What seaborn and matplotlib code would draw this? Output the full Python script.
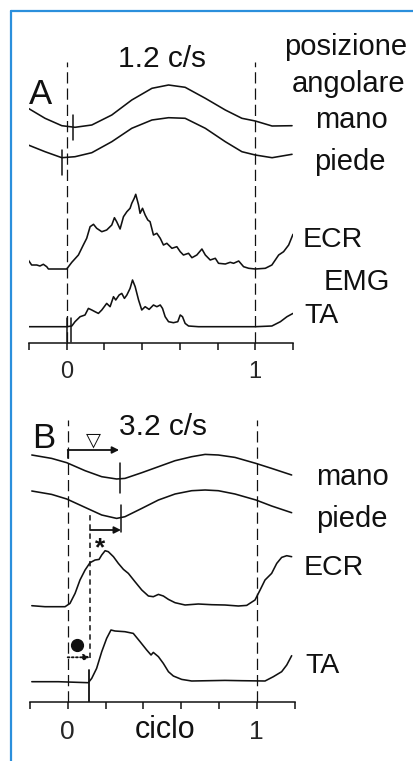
import matplotlib
matplotlib.use("Agg")
import matplotlib.pyplot as plt
from matplotlib.lines import Line2D
import pandas as pd
import seaborn as sns

# ---------------- data (phase of cycle, amplitude in arbitrary units) ----------------
# Panel A: 1.2 c/s
a_pos_phase = [-0.204, -0.115, -0.026, 0.044, 0.133, 0.239, 0.345, 0.452, 0.540, 0.628,
               0.735, 0.841, 0.929, 1.0, 1.089, 1.195]
a_mano = [-2.1, -12.1, -19.5, -21.1, -18.8, -8.8, 6.2, 17.9, 21.2, 18.9, 7.9, -3.8, -12.1,
          -14.8, -19.8, -19.5]
a_piede = [-7.3, -14.0, -20.0, -19.0, -15.0, -4.0, 9.4, 17.7, 20.0, 19.4, 9.4, -4.0, -14.0,
           -17.3, -20.0, -16.6]
a_ecr_phase = [-0.204, -0.186, -0.159, -0.142, -0.124, -0.106, -0.097, 0.0, 0.027, 0.062,
               0.088, 0.106, 0.124, 0.142, 0.159, 0.186, 0.212, 0.239, 0.253, 0.265,
               0.283, 0.301, 0.319, 0.336, 0.345, 0.358, 0.366, 0.381, 0.389, 0.402,
               0.416, 0.430, 0.442, 0.460, 0.478, 0.496, 0.513, 0.531, 0.558, 0.584,
               0.602, 0.619, 0.646, 0.664, 0.690, 0.717, 0.735, 0.761, 0.788, 0.805,
               0.841, 0.867, 0.885, 0.912, 0.938, 0.965, 1.0, 1.053, 1.088, 1.124,
               1.150, 1.177, 1.2]
a_ecr = [9.0, 4.0, 4.0, 3.0, 4.7, 2.3, 0.0, 0.0, 6.7, 14.0,
         24.0, 30.7, 42.3, 44.7, 40.7, 37.3, 39.0, 44.0, 51.3, 47.3,
         40.0, 52.3, 57.3, 60.7, 65.7, 70.7, 74.7, 64.0, 55.7, 60.7,
         54.0, 49.0, 47.3, 34.0, 35.7, 30.7, 24.0, 25.7, 20.7, 22.3,
         17.3, 14.0, 15.7, 11.3, 14.0, 20.0, 14.0, 9.0, 10.7, 5.7,
         5.0, 6.7, 5.7, 8.0, 2.3, 0.7, 0.0, 0.7, 4.0, 14.0,
         17.3, 24.0, 34.7]
a_ta_phase = [-0.2, 0.0, 0.027, 0.044, 0.071, 0.097, 0.115, 0.133, 0.150, 0.168,
              0.186, 0.212, 0.230, 0.248, 0.260, 0.278, 0.292, 0.306, 0.319, 0.336,
              0.349, 0.363, 0.381, 0.398, 0.416, 0.437, 0.460, 0.478, 0.496, 0.508,
              0.522, 0.540, 0.566, 0.589, 0.602, 0.614, 0.628, 0.646, 0.699, 0.841,
              1.0, 1.088, 1.133, 1.168, 1.2]
a_ta = [0.0, 0.0, 0.7, 5.0, 10.0, 11.7, 18.3, 16.7, 15.0, 13.3,
        16.7, 23.3, 20.0, 30.0, 26.7, 31.7, 33.3, 28.3, 31.7, 38.3,
        46.7, 40.0, 26.7, 16.7, 20.0, 17.3, 21.7, 20.0, 21.7, 18.3,
        10.0, 5.0, 4.0, 5.0, 11.7, 10.0, 3.3, 0.7, 0.0, 0.0,
        0.0, 0.7, 5.0, 10.0, 13.3]

# Panel B: 3.2 c/s
b_pos_phase = [-0.190, -0.085, -0.005, 0.092, 0.180, 0.259, 0.303, 0.392, 0.480, 0.568,
               0.656, 0.727, 0.797, 0.885, 0.996, 1.079, 1.185]
b_mano = [11.7, 8.3, 4.0, -4.0, -10.0, -12.3, -11.7, -6.0, 0.0, 6.0,
          10.0, 12.3, 11.7, 9.3, 3.3, -1.7, -8.3]
b_piede = [13.2, 9.8, 5.2, -3.2, -10.8, -14.2, -12.5, -4.2, 4.2, 10.2,
           13.5, 14.2, 13.5, 10.2, 4.2, -1.8, -8.5]
b_ecr_phase = [-0.190, -0.120, -0.014, 0.012, 0.039, 0.065, 0.092, 0.118, 0.145, 0.166,
               0.180, 0.198, 0.215, 0.242, 0.268, 0.295, 0.321, 0.356, 0.392, 0.427,
               0.453, 0.480, 0.506, 0.533, 0.568, 0.621, 0.691, 0.762, 0.832, 0.903,
               0.947, 0.991, 1.018, 1.044, 1.079, 1.106, 1.132, 1.159, 1.185]
b_ecr = [1.0, 0.0, 0.0, 3.3, 13.3, 26.7, 36.7, 44.0, 46.7, 47.3,
         51.7, 56.0, 55.0, 50.0, 43.3, 37.3, 33.3, 25.0, 16.7, 10.7,
         10.0, 12.3, 10.7, 7.3, 4.0, 1.7, 2.7, 2.0, 1.7, 0.7,
         1.3, 6.7, 16.7, 26.7, 33.3, 43.3, 49.3, 51.0, 50.0]
b_ta_phase = [-0.190, -0.049, 0.109, 0.127, 0.153, 0.180, 0.206, 0.229, 0.250, 0.303,
              0.347, 0.383, 0.418, 0.441, 0.453, 0.480, 0.506, 0.533, 0.559, 0.603,
              0.656, 0.744, 0.832, 0.921, 1.044, 1.088, 1.132, 1.159, 1.185]
b_ta = [0.0, 0.0, -1.0, 3.3, 13.3, 30.0, 43.3, 51.7, 50.7, 50.0,
        48.3, 40.0, 31.7, 26.7, 29.3, 25.0, 18.3, 10.0, 5.7, 2.3,
        0.7, 1.0, 1.3, 1.0, 0.7, 5.0, 10.0, 16.7, 26.0]

# event markers (phase)
a_mano_mark = 0.032
a_piede_mark = -0.023
a_ta_marks = [0.0, 0.021]
b_mano_min = 0.277
b_piede_min = 0.282
b_ta_onset = 0.112

tick_values = [-0.2, 0.0, 0.2, 0.4, 0.6, 0.8, 1.0, 1.2]
tick_labels = ["", "0", "", "", "", "", "1", ""]

# ---------------- figure ----------------
W, H = 414, 761
sns.set_style("white")
plt.rcParams["font.family"] = ["Liberation Sans", "DejaVu Sans"]
fig = plt.figure(figsize=(W / 100, H / 100), dpi=100)
INK = "#111111"
LW = 1.15


def fpos(x, y):
    return x / W, 1 - y / H


def make_axes(x0, x1, y_axis, y_top):
    # x0, x1: pixel of phase -0.2 and 1.2 ; y_axis: pixel row of axis line
    ax = fig.add_axes([x0 / W, 1 - y_axis / H, (x1 - x0) / W, (y_axis - y_top) / H])
    ax.set_xlim(-0.2, 1.2)
    ax.set_ylim(0, y_axis - y_top)
    for s in ["top", "right", "left"]:
        ax.spines[s].set_visible(False)
    ax.spines["bottom"].set_color(INK)
    ax.spines["bottom"].set_linewidth(1.1)
    ax.set_yticks([])
    ax.patch.set_alpha(0)
    return ax


def trace(ax, x, y, offset):
    df = pd.DataFrame({"phase": x, "v": [v + offset for v in y]})
    sns.lineplot(data=df, x="phase", y="v", ax=ax, color=INK, lw=LW,
                 estimator=None, sort=False, legend=False)


# ---- Panel A ----
axA = make_axes(29.0, 293.0, 343.3, 20.0)
trace(axA, a_pos_phase, a_mano, 237.1)
trace(axA, a_pos_phase, a_piede, 205.6)
trace(axA, a_ecr_phase, a_ecr, 74.3)
trace(axA, a_ta_phase, a_ta, 16.6)
for p in [0.0, 1.0]:
    axA.plot([p, p], [0, 281.3], color=INK, lw=0.9, dashes=(9, 4), clip_on=False)
axA.plot([a_mano_mark] * 2, [203.3, 228.3], color=INK, lw=1.1)
axA.plot([a_piede_mark] * 2, [168.3, 193.3], color=INK, lw=1.1)
for p in a_ta_marks:
    axA.plot([p, p], [1.3, 25.3], color=INK, lw=1.1)
axA.set_xticks(tick_values, tick_labels)
axA.tick_params(axis="x", direction="out", length=5, width=1.1, color=INK,
                labelsize=17, pad=7.5, bottom=True)
axA.set_xlabel("")
axA.set_ylabel("")

# ---- Panel B ----
axB = make_axes(29.9, 294.5, 702.3, 395.0)
trace(axB, b_pos_phase, b_mano, 235.6)
trace(axB, b_pos_phase, b_piede, 198.1)
trace(axB, b_ecr_phase, b_ecr, 95.6)
trace(axB, b_ta_phase, b_ta, 20.6)
for p in [0.0, 1.0]:
    axB.plot([p, p], [0, 282.3], color=INK, lw=0.9, dashes=(9, 4), clip_on=False)
# delay arrows
axB.plot([0, 0], [244.0, 252.3], color=INK, lw=1.3)
axB.annotate("", xy=(b_mano_min - 0.005, 252.3), xytext=(0, 252.3),
             arrowprops=dict(arrowstyle="-|>", color=INK, lw=1.3,
                             mutation_scale=10, shrinkA=0, shrinkB=0))
axB.text(0.135, 257, "▽", ha="center", va="baseline", fontsize=14,
         family=["DejaVu Sans"], color=INK)
axB.plot([b_mano_min] * 2, [209.3, 239.3], color=INK, lw=1.1)
axB.plot([b_piede_min] * 2, [170.3, 197.3], color=INK, lw=1.1)
axB.annotate("", xy=(b_piede_min, 172.3), xytext=(b_ta_onset + 0.006, 172.3),
             arrowprops=dict(arrowstyle="-|>", color=INK, lw=1.3,
                             mutation_scale=10, shrinkA=0, shrinkB=0))
axB.plot([b_ta_onset + 0.006] * 2, [44, 187.3], color=INK, lw=1.1, dashes=(3.5, 2.5))
axB.plot([b_ta_onset] * 2, [0, 32.3], color=INK, lw=1.3)
axB.text(0.171, 147, "*", ha="center", va="baseline", fontsize=19, color=INK,
         fontweight="bold")
axB.annotate("", xy=(b_ta_onset + 0.006, 45), xytext=(0, 45),
             arrowprops=dict(arrowstyle="-|>", color=INK, lw=1.3, linestyle=(0, (1, 1.3)),
                             mutation_scale=9, shrinkA=0, shrinkB=0))
axB.plot([0.051], [57.3], "o", color=INK, markersize=8.5)
axB.set_xticks(tick_values, tick_labels)
axB.tick_params(axis="x", direction="out", length=5, width=1.1, color=INK,
                labelsize=19, pad=8, bottom=True)
axB.set_xlabel("")
axB.set_ylabel("")

# ---------------- text labels ----------------
labels = [
    ("1.2 c/s", 162.5, 66.7, 21.5), ("A", 40.5, 104, 25),
    ("posizione", 346, 55, 21), ("angolare", 349, 91.7, 21),
    ("mano", 351, 128, 21), ("piede", 350, 170, 21),
    ("ECR", 332.5, 247, 20.5), ("EMG", 357, 290, 21), ("TA", 321.5, 323, 20.5),
    ("B", 44, 448, 25), ("3.2 c/s", 163.5, 435, 21.5),
    ("mano", 352.5, 485, 21), ("piede", 351.5, 526.7, 21),
    ("ECR", 334, 575, 20.5), ("TA", 322.5, 672.7, 20.5), ("ciclo", 165, 738.3, 22),
]
for s, x, y, fs in labels:
    fig.text(*fpos(x, y), s, ha="center", va="baseline", fontsize=fs, color=INK)

# blue frame
BLUE = "#2b8fdc"
fig.add_artist(Line2D([11 / W, 11 / W], [1 - 11 / H, 0], color=BLUE, lw=1.6,
                      transform=fig.transFigure))
fig.add_artist(Line2D([11 / W, 1], [1 - 11 / H, 1 - 11 / H], color=BLUE, lw=1.6,
                      transform=fig.transFigure))

fig.savefig("out.png", dpi=100, facecolor="white")
